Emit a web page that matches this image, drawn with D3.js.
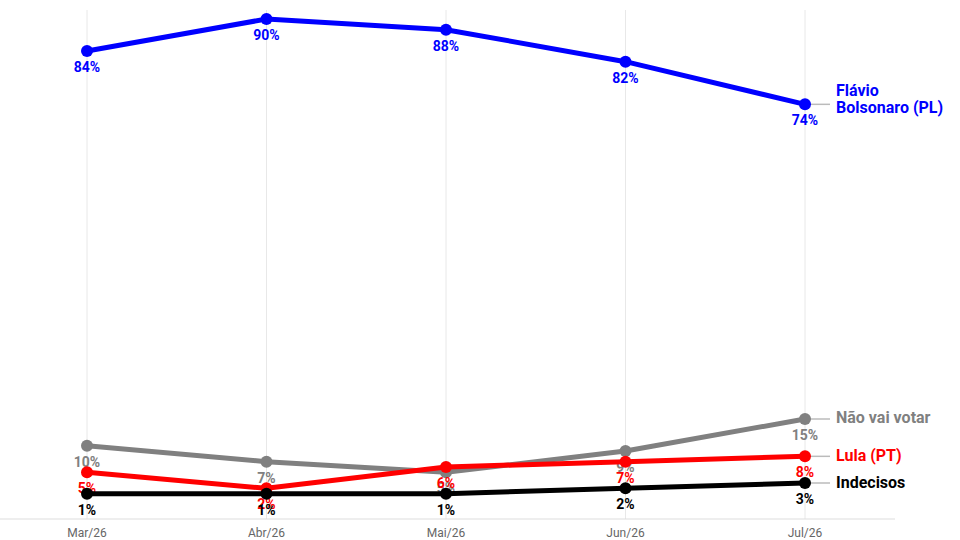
<!DOCTYPE html>
<html><head><meta charset="utf-8">
<script src="https://cdn.jsdelivr.net/npm/d3@7"></script>
<style>body{margin:0;background:#fff}text{font-family:Roboto,"Open Sans",sans-serif}</style>
</head><body><svg id="c" width="960" height="540"></svg>
<script>
const months = ["Mar/26", "Abr/26", "Mai/26", "Jun/26", "Jul/26"];
const flavio = [84, 90, 88, 82, 74];
const naoVota = [10, 7, 5, 9, 15];
const lula = [5, 2, 6, 7, 8];
const indecisos = [1, 1, 1, 2, 3];

const series = [
  {name: ["Não vai votar"], values: naoVota, color: "#808080", ly: 418},
  {name: ["Lula (PT)"], values: lula, color: "#ff0000", ly: 456},
  {name: ["Indecisos"], values: indecisos, color: "#000000", ly: 483},
  {name: ["Flávio", "Bolsonaro (PL)"], values: flavio, color: "#0000ff", ly: 104}
];

const svg = d3.select("#c");
const x = d3.scalePoint(months, [87, 805]);
const y = d3.scaleLinear([0, 90], [499, 19]);

svg.selectAll(".grid").data(months).join("line")
  .attr("x1", d => x(d)).attr("x2", d => x(d)).attr("y1", 10).attr("y2", 519)
  .attr("stroke", "#e8e8e8");
svg.append("line").attr("x1", 0).attr("x2", 895).attr("y1", 519).attr("y2", 519).attr("stroke", "#ddd");
svg.selectAll(".xl").data(months).join("text")
  .attr("x", d => x(d)).attr("y", 537).attr("text-anchor", "middle")
  .attr("font-size", 12).attr("fill", "#666").text(d => d);

const line = d3.line().x((d, i) => x(months[i])).y(d => y(d));
series.forEach(s => {
  const g = svg.append("g");
  const last = s.values[s.values.length - 1];
  g.append("line").attr("x1", x(months[4])).attr("x2", 830)
    .attr("y1", y(last)).attr("y2", y(last)).attr("stroke", "#bbb").attr("stroke-width", 1.5);
  g.append("path").attr("d", line(s.values)).attr("fill", "none")
    .attr("stroke", s.color).attr("stroke-width", 5).attr("stroke-linejoin", "round");
  g.selectAll("circle").data(s.values).join("circle")
    .attr("cx", (d, i) => x(months[i])).attr("cy", d => y(d)).attr("r", 6).attr("fill", s.color);
  g.selectAll(".v").data(s.values).join("text")
    .attr("x", (d, i) => x(months[i])).attr("y", d => y(d) + 21)
    .attr("text-anchor", "middle").attr("font-size", 14).attr("font-weight", 700)
    .attr("fill", s.color).text(d => d + "%");
  const t = g.append("text").attr("x", 836).attr("font-size", 16).attr("font-weight", 700).attr("fill", s.color);
  s.name.forEach((n, i) => t.append("tspan").attr("x", 836)
    .attr("y", s.name.length > 1 ? s.ly - 8 + i * 17 : s.ly + 5).text(n));
});
</script></body></html>
